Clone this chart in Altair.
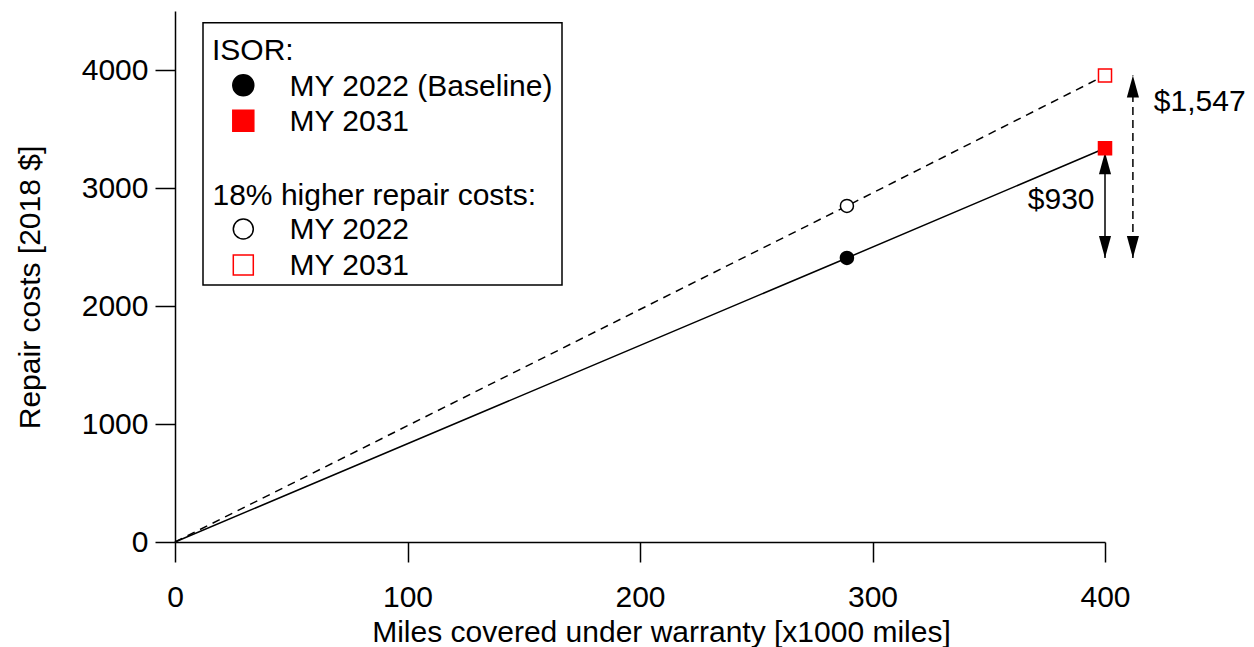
import altair as alt
import pandas as pd

FONT = "Liberation Sans"
FS = 30

# Warranty mileage (x1000 miles) and cumulative repair costs (2018 $)
miles = [0, 289, 400]
isor_cost = [0, 2407, 3337]
higher_cost = [0, 2848, 3954]

# Cost gaps relative to the MY 2022 baseline
gap_labels = ["$930", "$1,547"]
gap_values = [930, 1547]
gap_miles = [400, 412]
gap_label_miles = [395.5, 421.0]
gap_label_cost = [2826, 3652]

x_ticks = [0, 100, 200, 300, 400]
y_ticks = [0, 1000, 2000, 3000, 4000]

# Legend content
legend_headers = ["ISOR:", "18% higher repair costs:"]
legend_header_y = [48.6, 193.9]
legend_items = ["MY 2022 (Baseline)", "MY 2031", "MY 2022", "MY 2031"]
legend_item_y = [84.7, 120.1, 228.4, 264.4]
legend_sym_y = [74.3, 109.7, 218.0, 254.0]
legend_shapes = ["circle", "square", "circle", "square"]
legend_fills = ["black", "red", "white", "white"]
legend_strokes = ["black", "red", "black", "red"]
legend_sizes = [441, 441, 400, 400]

X = alt.X(
    "miles:Q",
    scale=alt.Scale(domain=[0, 400], nice=False, zero=False),
    axis=alt.Axis(
        values=x_ticks, format="d", tickSize=20, labelPadding=44,
        labelBaseline="alphabetic", labelAlign="center", labelOverlap=False,
        labelFlush=False, title="Miles covered under warranty [x1000 miles]",
        titleX=486, titleY=99, titleAlign="center", titleBaseline="alphabetic",
    ),
)
Y = alt.Y(
    "cost:Q",
    scale=alt.Scale(domain=[0, 4500], nice=False),
    axis=alt.Axis(
        values=y_ticks, format="d", tickSize=20, labelPadding=7,
        labelBaseline="middle", labelOverlap=False, labelFlush=False,
        title="Repair costs [2018 $]", titleAngle=270, titleX=-135.5,
        titleY=276, titleAlign="center", titleBaseline="alphabetic",
    ),
)

isor_df = pd.DataFrame({"miles": miles, "cost": isor_cost})
high_df = pd.DataFrame({"miles": miles, "cost": higher_cost})

solid_line = alt.Chart(isor_df).mark_line(color="black", strokeWidth=1.5).encode(x=X, y=Y)
dashed_line = alt.Chart(high_df).mark_line(
    color="black", strokeWidth=1.5, strokeDash=[8, 6]
).encode(x=X, y=Y)

pts = pd.DataFrame({
    "miles": [miles[1], miles[2], miles[1], miles[2]],
    "cost": [isor_cost[1], isor_cost[2], higher_cost[1], higher_cost[2]],
    "shape": ["circle", "square", "circle", "square"],
    "fill": ["black", "red", "white", "white"],
    "stroke": ["black", "red", "black", "red"],
})
points = alt.Chart(pts).mark_point(filled=True, size=170, strokeWidth=1.5, opacity=1).encode(
    x=X, y=Y,
    shape=alt.Shape("shape:N", scale=None),
    fill=alt.Fill("fill:N", scale=None),
    stroke=alt.Stroke("stroke:N", scale=None),
)

# Gap arrows from the baseline cost up to each MY 2031 cost
base = isor_cost[1]
arrows = pd.DataFrame({
    "miles": gap_miles,
    "cost": [base, base],
    "cost2": [base + v for v in gap_values],
})
solid_arrow = alt.Chart(arrows.iloc[[0]]).mark_rule(color="black", strokeWidth=1.5).encode(
    x=X, y=Y, y2="cost2:Q"
)
dashed_arrow = alt.Chart(arrows.iloc[[1]]).mark_rule(
    color="black", strokeWidth=1.5, strokeDash=[8, 5]
).encode(x=X, y=Y, y2="cost2:Q")

UP = "M0,-1 L0.55,1 L-0.55,1 Z"
DOWN = "M0,1 L0.55,-1 L-0.55,-1 Z"
down_heads = alt.Chart(arrows).mark_point(
    shape=DOWN, size=484, filled=True, color="black", opacity=1, yOffset=-11
).encode(x=X, y=Y)
up_head_solid = alt.Chart(arrows.iloc[[0]]).mark_point(
    shape=UP, size=484, filled=True, color="black", opacity=1, yOffset=15
).encode(x=X, y=alt.Y("cost2:Q"))
up_head_dashed = alt.Chart(arrows.iloc[[1]]).mark_point(
    shape=UP, size=484, filled=True, color="black", opacity=1, yOffset=11
).encode(x=X, y=alt.Y("cost2:Q"))

gap_df = pd.DataFrame({"miles": gap_label_miles, "cost": gap_label_cost, "label": gap_labels})
gap_text_r = alt.Chart(gap_df.iloc[[0]]).mark_text(
    font=FONT, fontSize=FS, align="right", baseline="alphabetic", color="black"
).encode(x=X, y=Y, text="label:N")
gap_text_l = alt.Chart(gap_df.iloc[[1]]).mark_text(
    font=FONT, fontSize=FS, align="left", baseline="alphabetic", color="black"
).encode(x=X, y=Y, text="label:N")

# Legend box
box = alt.Chart(pd.DataFrame({"k": [0]})).mark_rect(
    fill="white", stroke="black", strokeWidth=1.5
).encode(x=alt.value(28), x2=alt.value(387), y=alt.value(11.7), y2=alt.value(274))

hdr_df = pd.DataFrame({"tx": [37.0, 37.5], "ty": legend_header_y, "text": legend_headers})
hdr = alt.Chart(hdr_df).mark_text(
    font=FONT, fontSize=FS, align="left", baseline="alphabetic", color="black"
).encode(x=alt.X("tx:Q", scale=None), y=alt.Y("ty:Q", scale=None), text="text:N")

item_df = pd.DataFrame({"tx": [114.5] * 4, "ty": legend_item_y, "text": legend_items})
items = alt.Chart(item_df).mark_text(
    font=FONT, fontSize=FS, align="left", baseline="alphabetic", color="black"
).encode(x=alt.X("tx:Q", scale=None), y=alt.Y("ty:Q", scale=None), text="text:N")

sym_df = pd.DataFrame({
    "sx": [68.3] * 4, "sy": legend_sym_y, "shape": legend_shapes,
    "fill": legend_fills, "stroke": legend_strokes, "size": legend_sizes,
})
syms = alt.Chart(sym_df).mark_point(filled=True, strokeWidth=1.5, opacity=1).encode(
    x=alt.X("sx:Q", scale=None), y=alt.Y("sy:Q", scale=None),
    shape=alt.Shape("shape:N", scale=None),
    fill=alt.Fill("fill:N", scale=None),
    stroke=alt.Stroke("stroke:N", scale=None),
    size=alt.Size("size:Q", scale=None),
)

chart = alt.layer(
    solid_line, dashed_line, solid_arrow, dashed_arrow,
    down_heads, up_head_solid, up_head_dashed, points,
    gap_text_r, gap_text_l, box, hdr, items, syms,
).properties(
    width=930, height=531,
    autosize=alt.AutoSizeParams(type="none"),
    padding={"left": 175, "top": 11, "right": 149, "bottom": 105},
    background="white",
).configure_axis(
    grid=False, domainColor="black", tickColor="black", domainWidth=1.5,
    tickWidth=1.5, labelFont=FONT, titleFont=FONT, labelFontSize=FS,
    titleFontSize=FS, labelColor="black", titleColor="black",
    titleFontWeight="normal",
).configure_view(stroke="transparent")

chart.save("out.html", embed_options={"renderer": "svg", "actions": False})
